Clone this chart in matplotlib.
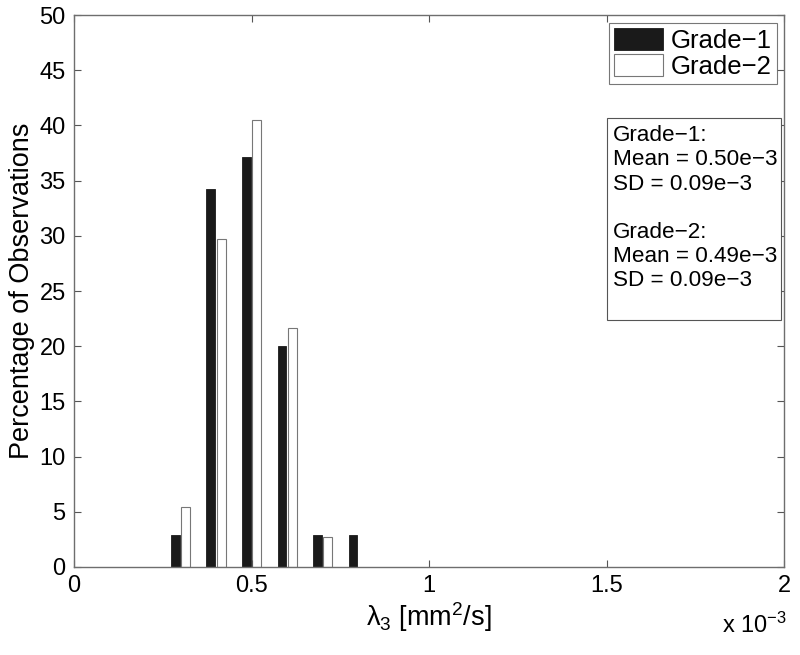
import matplotlib.pyplot as plt
from matplotlib.patches import Rectangle
import numpy as np

plt.rcParams['font.family'] = ['Liberation Sans', 'DejaVu Sans']
plt.rcParams['mathtext.default'] = 'regular'

# bin centres (x 10^-3 mm^2/s) and percentage of observations
bins_g1 = [0.3, 0.4, 0.5, 0.6, 0.7, 0.8]
pct_g1 = [2.86, 34.29, 37.14, 20.0, 2.86, 2.86]
bins_g2 = [0.3, 0.4, 0.5, 0.6, 0.7]
pct_g2 = [5.41, 29.73, 40.54, 21.62, 2.70]

xticks = [0, 0.5, 1, 1.5, 2]
xticklabels = ['0', '0.5', '1', '1.5', '2']
yticks = list(range(0, 51, 5))

stats_text = ("Grade\u22121:\nMean = 0.50e\u22123\nSD = 0.09e\u22123\n\n"
              "Grade\u22122:\nMean = 0.49e\u22123\nSD = 0.09e\u22123")

fig = plt.figure(figsize=(8, 6.55), dpi=100)
ax = fig.add_axes([0.0925, 0.1344, 0.888, 0.8425])

w = 0.025
off = 0.0145
ax.bar(np.array(bins_g1) - off, pct_g1, width=w, color='#1a1a1a',
       edgecolor='#1a1a1a', linewidth=0.6, label='Grade\u22121')
ax.bar(np.array(bins_g2) + off, pct_g2, width=w, color='white',
       edgecolor='#777777', linewidth=0.8, label='Grade\u22122')

ax.set_xlim(0, 2)
ax.set_ylim(0, 50)
ax.set_xticks(xticks)
ax.set_xticklabels(xticklabels)
ax.set_yticks(yticks)
ax.tick_params(direction='in', length=5, width=0.8, top=True, right=True,
               labelsize=17, color='#555555', pad=6)
for s in ax.spines.values():
    s.set_color('#6e6e6e')
    s.set_linewidth(1.0)

ax.set_xlabel('\u03bb$_3$ [mm$^2$/s]', fontsize=19.5, labelpad=2)
ax.set_ylabel('Percentage of Observations', fontsize=19.5, labelpad=3)
fig.text(0.943, 0.034, 'x 10$^{-3}$', fontsize=17, ha='center', va='baseline')

leg = ax.legend(loc='upper right', fontsize=18.5, frameon=True, fancybox=False,
                edgecolor='#555555', borderpad=0.2, handlelength=1.9,
                handleheight=0.92, handletextpad=0.3, labelspacing=0.05,
                borderaxespad=0.3)
leg.get_frame().set_linewidth(0.8)

# statistics box
x0, y0, x1, y1 = 607 / 800, 1 - 320 / 655, 781 / 800, 1 - 118 / 655
fig.patches.append(Rectangle((x0, y0), x1 - x0, y1 - y0, transform=fig.transFigure,
                             facecolor='white', edgecolor='#555555', linewidth=0.8))
fig.text(x0 + 0.007, y1 - 0.011, stats_text, fontsize=16.2, va='top', ha='left',
         linespacing=1.2)

fig.savefig('out.png', dpi=100)
